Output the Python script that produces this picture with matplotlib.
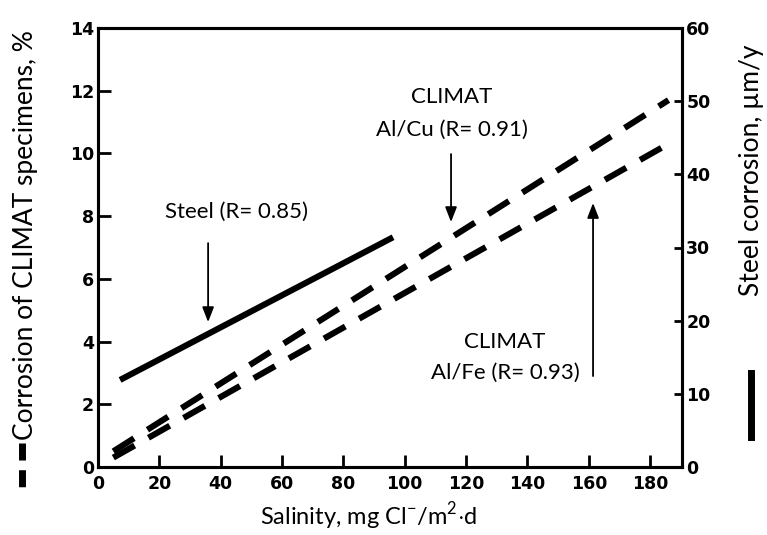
import matplotlib
matplotlib.use("Agg")
import matplotlib.pyplot as plt
from matplotlib.lines import Line2D

plt.rcParams['font.family'] = ['Lato', 'DejaVu Sans']
plt.rcParams['mathtext.fontset'] = 'custom'
plt.rcParams['mathtext.rm'] = 'Lato'

# salinity (mg Cl-/m2.d) -> corrosion values
steel_x = [7.2, 96.2]
steel_y = [11.9, 31.4]          # um/y, right axis
alcu_x = [5.0, 186.0]
alcu_y = [0.5, 11.7]            # %, left axis
alfe_x = [5.0, 185.0]
alfe_y = [0.3, 10.25]           # %, left axis

x_ticks = [0, 20, 40, 60, 80, 100, 120, 140, 160, 180]
left_ticks = [0, 2, 4, 6, 8, 10, 12, 14]
right_ticks = [0, 10, 20, 30, 40, 50, 60]

fig = plt.figure(figsize=(7.67, 5.35), dpi=100)
ax = fig.add_axes([98/767, 68/535, 584/767, 439/535])
ax2 = ax.twinx()

lw = 4.4
dash = (4.0, 2.6)
ax.plot(alcu_x, alcu_y, color='black', lw=lw, dashes=dash, dash_capstyle='butt')
ax.plot(alfe_x, alfe_y, color='black', lw=lw, dashes=dash, dash_capstyle='butt')
ax2.plot(steel_x, steel_y, color='black', lw=lw, solid_capstyle='butt')

ax.set_xlim(0, 190.4)
ax.set_ylim(0, 14)
ax2.set_ylim(0, 60)
ax.set_xticks(x_ticks)
ax.set_yticks(left_ticks)
ax2.set_yticks(right_ticks)

tick_font = dict(family='DejaVu Sans', weight='bold', size=12.5)
ax.set_xticklabels([str(t) for t in x_ticks], **tick_font)
ax.set_yticklabels([str(t) for t in left_ticks], **tick_font)
ax2.set_yticklabels([str(t) for t in right_ticks], **tick_font)

ax.tick_params(axis='both', direction='in', length=9, width=2, pad=3)
ax.tick_params(axis='x', pad=6)
ax2.tick_params(axis='y', direction='in', length=6, width=2, pad=3)
for a in (ax, ax2):
    for s in a.spines.values():
        s.set_linewidth(2.2)

# annotations
txt = dict(fontsize=16, ha='center', va='center', color='black')
ax.text(45, 8.15, 'Steel (R= 0.85)', **txt)
ax.text(115.4, 11.8, 'CLIMAT', **txt)
ax.text(115.4, 10.75, 'Al/Cu (R= 0.91)', **txt)
ax.text(132.7, 4.0, 'CLIMAT', **txt)
ax.text(132.7, 3.0, 'Al/Fe (R= 0.93)', **txt)

arrow = dict(arrowstyle='-|>,head_width=0.35,head_length=0.9', color='black', lw=1.3, shrinkA=0, shrinkB=0)
ax.annotate('', xy=(35.9, 4.62), xytext=(35.9, 7.14), arrowprops=arrow)
ax.annotate('', xy=(115.1, 7.81), xytext=(115.1, 9.98), arrowprops=arrow)
ax.annotate('', xy=(161.4, 8.42), xytext=(161.4, 2.9), arrowprops=arrow)

# axis titles with their line-style keys
fig.text(26/767, 1 - 440/535, 'Corrosion of CLIMAT specimens, %', rotation=90,
         ha='center', va='bottom', fontsize=19)
fig.add_artist(Line2D([22/767, 22/767], [1 - 443/535, 1 - 488/535], color='black', lw=5,
                      dashes=(2.45, 1.4), transform=fig.transFigure))
fig.text(751/767, 1 - 170/535, 'Steel corrosion, \u00b5m/y', rotation=90,
         ha='center', va='center', fontsize=19)
fig.add_artist(Line2D([751/767, 751/767], [1 - 373/535, 1 - 437/535], color='black', lw=5,
                      transform=fig.transFigure))
fig.text(369/767, 1 - 516/535, r'Salinity, mg Cl$^{\mathrm{-}}$/m$^{2}$$\cdot$d',
         ha='center', va='center', fontsize=17)

fig.savefig('out.png', dpi=100)
